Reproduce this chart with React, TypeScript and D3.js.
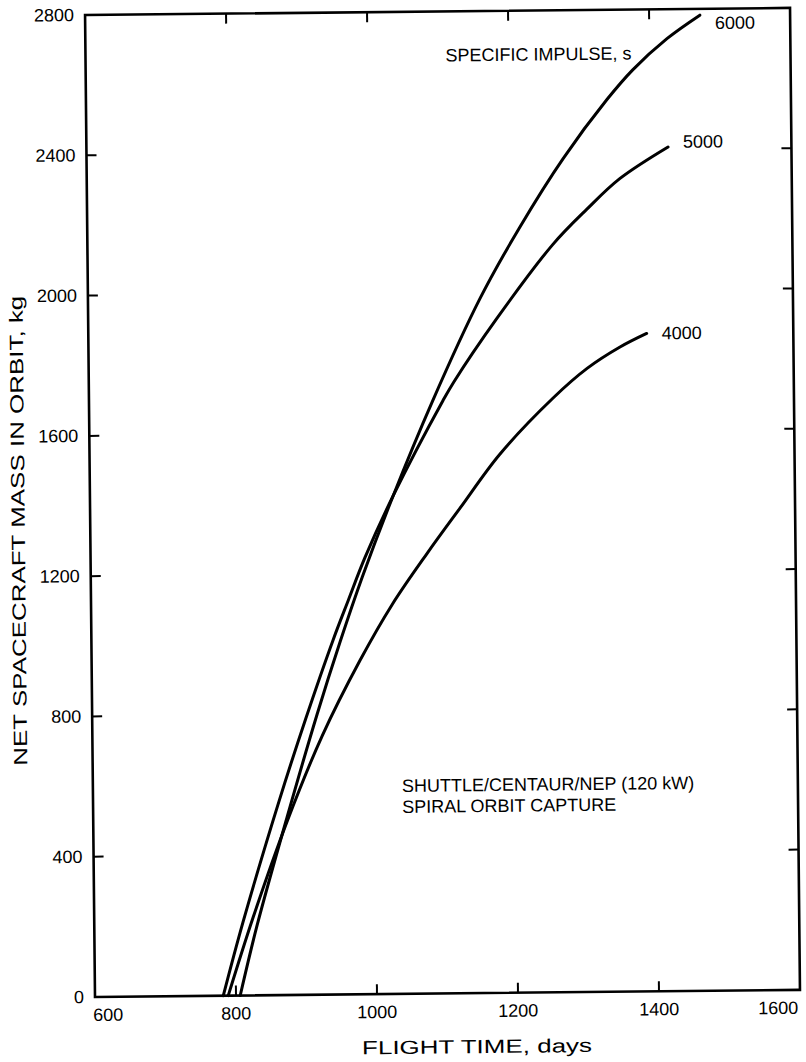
import React from "react";
import * as d3 from "d3";

// ---- data ----
const xTickValues = [600, 800, 1000, 1200, 1400, 1600];
const yTickValues = [0, 400, 800, 1200, 1600, 2000, 2400, 2800];

const impulse6000: [number, number][] = [
  [806, 0], [831, 200], [875, 507], [919, 799], [953, 1007], [985, 1189],
  [1030, 1420], [1087, 1688], [1156, 1980], [1214, 2184], [1276, 2377],
  [1339, 2544], [1376, 2628], [1425, 2716], [1472, 2782],
];
const impulse5000: [number, number][] = [
  [782, 0], [811, 209], [864, 554], [903, 788], [943, 1012], [965, 1124],
  [989, 1244], [1030, 1420], [1102, 1690], [1118, 1744], [1180, 1924],
  [1260, 2132], [1309, 2232], [1356, 2318], [1425, 2407],
];
const impulse4000: [number, number][] = [
  [789, 0], [825, 220], [875, 495], [926, 738], [981, 953], [1027, 1110],
  [1077, 1254], [1125, 1384], [1182, 1536], [1258, 1694], [1307, 1778],
  [1354, 1838], [1392, 1876],
];
const seriesLabels = ["6000", "5000", "4000"];
const seriesData = [impulse6000, impulse5000, impulse4000];

const xTitle = "FLIGHT TIME, days";
const yTitle = "NET SPACECRAFT MASS IN ORBIT, kg";
const legendTitle = "SPECIFIC IMPULSE, s";
const noteLines = ["SHUTTLE/CENTAUR/NEP (120 kW)", "SPIRAL ORBIT CAPTURE"];

// ---- layout ----
const PW = 705;
const PH = 982;
const FONT = "'Liberation Sans', Arial, sans-serif";

export default function App() {
  const x = d3.scaleLinear().domain([600, 1600]).range([0, PW]);
  const y = d3.scaleLinear().domain([0, 2800]).range([PH, 0]);
  const line = d3
    .line<[number, number]>()
    .x((d) => x(d[0]))
    .y((d) => y(d[1]))
    .curve(d3.curveCatmullRom.alpha(0.5));

  const labelDy = [8, -5, 0];
  const tick = 10;

  return (
    <svg
      width={806}
      height={1062}
      style={{ position: "absolute", left: 0, top: 0, background: "#fff" }}
      fontFamily={FONT}
    >
      <rect x={0} y={0} width={806} height={1062} fill="#fff" />
      <g transform="translate(95,997) rotate(-0.58)">
        <g transform={`translate(0,${-PH})`}>
          {/* frame */}
          <rect x={0} y={0} width={PW} height={PH} fill="none" stroke="#000" strokeWidth={2.6} />
          {/* x ticks bottom & top */}
          {xTickValues.slice(1, -1).map((v) => (
            <g key={"xt" + v}>
              <line x1={x(v)} x2={x(v)} y1={PH} y2={PH - tick} stroke="#000" strokeWidth={2} />
              <line x1={x(v)} x2={x(v)} y1={0} y2={tick} stroke="#000" strokeWidth={2} />
            </g>
          ))}
          {/* y ticks left & right */}
          {yTickValues.slice(1, -1).map((v) => (
            <g key={"yt" + v}>
              <line x1={0} x2={tick} y1={y(v)} y2={y(v)} stroke="#000" strokeWidth={2} />
              <line x1={PW} x2={PW - tick} y1={y(v)} y2={y(v)} stroke="#000" strokeWidth={2} />
            </g>
          ))}
          {/* x tick labels */}
          {xTickValues.map((v, i) => {
            const anchor = i === 0 ? "start" : i === xTickValues.length - 1 ? "end" : "middle";
            const dx = i === 0 ? -2 : i === xTickValues.length - 1 ? -2 : 0;
            return (
              <text key={"xl" + v} x={x(v) + dx} y={PH + 24} fontSize={18} textAnchor={anchor}>
                {v}
              </text>
            );
          })}
          {/* y tick labels */}
          {yTickValues.map((v) => (
            <text key={"yl" + v} x={-11} y={y(v)} fontSize={18} textAnchor="end" dominantBaseline="central">
              {v}
            </text>
          ))}
          {/* curves */}
          {seriesData.map((s, i) => (
            <path key={"c" + i} d={line(s) || ""} fill="none" stroke="#000" strokeWidth={3} strokeLinecap="round" />
          ))}
          {seriesData.map((s, i) => {
            const last = s[s.length - 1];
            return (
              <text key={"sl" + i} x={x(last[0]) + 15} y={y(last[1]) + labelDy[i]} fontSize={18} dominantBaseline="central">
                {seriesLabels[i]}
              </text>
            );
          })}
          {/* annotations */}
          <text x={546} y={50} fontSize={18} textAnchor="end">{legendTitle}</text>
          {noteLines.map((t, i) => (
            <text key={"n" + i} x={309} y={780 + i * 21} fontSize={18}>{t}</text>
          ))}
          {/* axis titles */}
          <text x={PW / 2 + 29} y={PH + 60} fontSize={19} textAnchor="middle" textLength={230} lengthAdjust="spacingAndGlyphs">
            {xTitle}
          </text>
          <text
            transform={`translate(-72,515) rotate(-90)`}
            fontSize={19}
            textAnchor="middle"
            dominantBaseline="central"
            textLength={470}
            lengthAdjust="spacingAndGlyphs"
          >
            {yTitle}
          </text>
        </g>
      </g>
    </svg>
  );
}
